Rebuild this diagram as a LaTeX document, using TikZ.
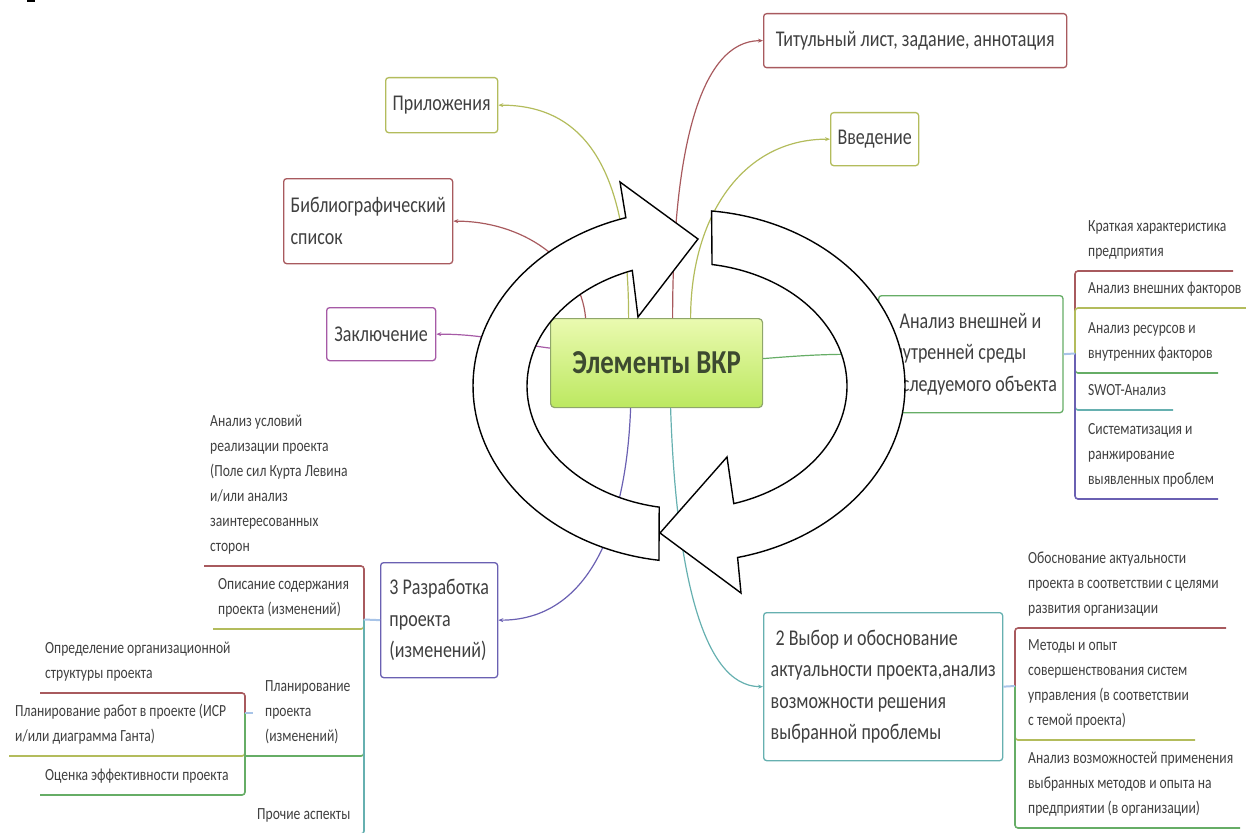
\documentclass[tikz,border=0pt]{standalone}
\usepackage{fontspec}
\setmainfont{Carlito}[FakeStretch=0.8]
\usetikzlibrary{arrows.meta,calc}
\definecolor{cred}{HTML}{A85A5E}
\definecolor{colive}{HTML}{B3BC5C}
\definecolor{cgreen}{HTML}{66AD66}
\definecolor{cteal}{HTML}{66B0B0}
\definecolor{cblue}{HTML}{6A60B2}
\definecolor{cpurple}{HTML}{A65AA6}
\definecolor{ctext}{HTML}{404040}
\definecolor{ctoggle}{HTML}{A8C4E8}
\definecolor{ctop}{HTML}{EAFAB0}
\definecolor{cbot}{HTML}{BCE860}
\definecolor{cborder}{HTML}{8FA66A}
\definecolor{ctitle}{HTML}{3D4A30}
\begin{document}
\begin{tikzpicture}[x=1pt,y=-1pt,
  mainbox/.style={draw, rounded corners=3pt, line width=1.3pt, fill=white, text=ctext,
    anchor=north west, inner xsep=6pt, inner ysep=0pt, align=left,
    font=\fontsize{22.5}{31.5}\selectfont},
  subitem/.style={text=ctext, anchor=south west, inner xsep=0pt, inner ysep=7pt,
    font=\fontsize{17}{25}\selectfont, align=left, execute at end node=\strut},
  link/.style={line width=1.2pt, -{Stealth[length=5pt,width=4pt]}},
  uline/.style={line width=1.6pt, rounded corners=3pt},
  toggle/.style={ctoggle, line width=2pt},
  cyc/.style={draw=black, fill=white, line width=1.4pt, line join=miter},
]
\useasboundingbox (0,0) rectangle (1246,832);
\fill (27,0) rectangle (35,2);

% central node
\node[draw=cborder, line width=1.2pt, top color=ctop, bottom color=cbot, rounded corners=4pt,
  minimum width=212pt, minimum height=89pt, anchor=north west, inner sep=0pt,
  font=\bfseries\fontsize{33.5}{36}\selectfont, text=ctitle] (c) at (550,318) {Элементы ВКР};

% main topics
\node[mainbox, draw=cred, minimum width=303pt, minimum height=54pt] (tit) at (763,13) {Титульный лист, задание, аннотация};
\node[mainbox, draw=colive, minimum width=88pt, minimum height=53pt] (vved) at (830,112) {Введение};
\node[mainbox, draw=colive, minimum width=112pt, minimum height=55pt] (pril) at (385,77) {Приложения};
\node[mainbox, draw=cred, minimum width=169pt, minimum height=85pt] (bib) at (283,178) {Библиографический\\список};
\node[mainbox, draw=cpurple, minimum width=109pt, minimum height=53pt] (zakl) at (326,307) {Заключение};
\node[mainbox, draw=cgreen, minimum width=183pt, minimum height=117pt] (anal) at (878,295) {\hspace*{15pt}Анализ внешней и\\внутренней среды\\исследуемого объекта};
\node[mainbox, draw=cteal, minimum width=239pt, minimum height=148pt] (vyb) at (763,612) {\hspace*{5pt}2 Выбор и обоснование\\актуальности проекта,анализ\\возможности решения\\выбранной проблемы};
\node[mainbox, draw=cblue, minimum width=117pt, minimum height=115pt] (razr) at (380,562) {3 Разработка\\проекта\\(изменений)};

% connectors from the centre
\draw[link, cred] ([xshift=16pt]c.north) .. controls +(0,-168) and +(-63,0) .. (tit.west);
\draw[link, colive] ([xshift=34pt]c.north) .. controls +(0,-98) and +(-90,0) .. (vved.west);
\draw[link, colive] ([xshift=-28pt]c.north) .. controls +(0,-138) and +(93,0) .. (pril.east);
\draw[link, cred] ([xshift=-71pt]c.north) .. controls +(-5,-58) and +(68,0) .. (bib.east);
\draw[link, cpurple] ([yshift=15pt]c.west) .. controls +(-40,-5) and +(50,0) .. (zakl.east);
\draw[link, cgreen] ([yshift=4.5pt]c.east) .. controls +(50,-4) and +(-50,0) .. (anal.west);
\draw[link, cteal] ([xshift=14pt]c.south) .. controls +(5,153) and +(-63,0) .. (vyb.west);
\draw[link, cblue] ([xshift=-26pt]c.south) .. controls +(-5,133) and +(83,0) .. (razr.east);

% branch points
\coordinate (br7) at (1075,353.5);
\coordinate (br8) at (1015,686);
\coordinate (br9) at (364,619.5);
\coordinate (br3) at (245,713);
\coordinate (br3t) at (253,713);

% sub items of anal
\node[subitem] (k1) at (1088,271) {Краткая характеристика\\предприятия};
\node[subitem] (k2) at (1088,308) {Анализ внешних факторов};
\node[subitem] (k3) at (1088,373) {Анализ ресурсов и\\внутренних факторов};
\node[subitem] (k4) at (1088,410) {SWOT-Анализ};
\node[subitem] (k5) at (1088,499) {Систематизация и\\ранжирование\\выявленных проблем};
\coordinate (k1e) at (1233,271);
\coordinate (k2e) at (1246,308);
\coordinate (k3e) at (1218,373);
\coordinate (k4e) at (1173,410);
\coordinate (k5e) at (1218,499);
\draw[uline, cred] (br7) |- (k1e);
\draw[uline, colive] (br7) |- (k2e);
\draw[uline, cgreen] (br7) |- (k3e);
\draw[uline, cteal] (br7) |- (k4e);
\draw[uline, cblue] (br7) |- (k5e);
\draw[toggle] (anal.east) -- (br7);

% sub items of vyb
\node[subitem] (m1) at (1028,628) {Обоснование актуальности\\проекта в соответствии с целями\\развития организации};
\node[subitem] (m2) at (1028,740) {Методы и опыт\\совершенствования систем\\управления (в соответствии\\с темой проекта)};
\node[subitem] (m3) at (1028,828) {Анализ возможностей применения\\выбранных методов и опыта на\\предприятии (в организации)};
\coordinate (m1e) at (1226,628);
\coordinate (m2e) at (1195,740);
\coordinate (m3e) at (1240,828);
\draw[uline, cred] (br8) |- (m1e);
\draw[uline, colive] (br8) |- (m2e);
\draw[uline, cgreen] (br8) |- (m3e);
\draw[toggle] (vyb.east) -- (br8);

% sub items of razr
\node[subitem] (a1) at (210,566) {Анализ условий\\реализации проекта\\(Поле сил Курта Левина\\и/или анализ\\заинтересованных\\сторон};
\node[subitem] (a2) at (218,629) {Описание содержания\\проекта (изменений)};
\node[subitem] (a3) at (265,756) {Планирование\\проекта\\(изменений)};
\node[subitem] (a4) at (257,834) {Прочие аспекты};
\coordinate (a1e) at (204,566);
\coordinate (a2e) at (213,629);
\coordinate (a3e) at (245,756);
\coordinate (a4e) at (250,834);
\draw[uline, cred] (br9) |- (a1e);
\draw[uline, colive] (br9) |- (a2e);
\draw[uline, cgreen] (br9) |- (a3e);
\draw[uline, cteal] (br9) |- (a4e);
\draw[toggle] (razr.west) -- (br9);

% sub-sub items of planning
\node[subitem] (b1) at (45,693) {Определение организационной\\структуры проекта};
\node[subitem] (b2) at (15,756) {Планирование работ в проекте (ИСР\\и/или диаграмма Ганта)};
\node[subitem] (b3) at (45,795) {Оценка эффективности проекта};
\coordinate (b1e) at (40,693);
\coordinate (b2e) at (9,756);
\coordinate (b3e) at (40,795);
\draw[uline, cred] (br3) |- (b1e);
\draw[uline, colive] (br3) |- (b2e);
\draw[uline, cgreen] (br3) |- (b3e);
\draw[toggle] (br3) -- (br3t);

% cycle arrows
\draw[cyc] plot[domain=98:253, samples=80] ({689+216*cos(\x)},{386+176*sin(\x)})
  -- (620,182) -- (698,239) -- (638,317)
  -- plot[domain=250:100, samples=80] ({687+160*cos(\x)},{386+123*sin(\x)}) -- cycle;
\draw[cyc] plot[domain=276:437, samples=80] ({689+216*cos(\x)},{386+176*sin(\x)})
  -- (741,593) -- (660,533) -- (727,457)
  -- plot[domain=433:279, samples=80] ({687+160*cos(\x)},{386+123*sin(\x)}) -- cycle;
\end{tikzpicture}
\end{document}
